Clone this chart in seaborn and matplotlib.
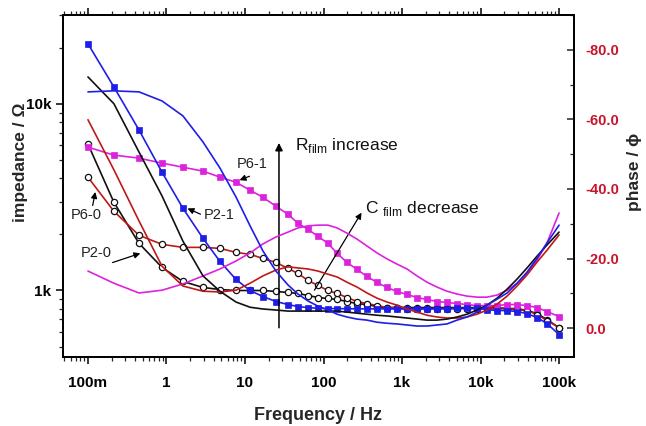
import numpy as np
import pandas as pd
import matplotlib
matplotlib.use("Agg")
import matplotlib.pyplot as plt
import seaborn as sns
from matplotlib.ticker import FixedLocator, LogLocator, NullFormatter, MultipleLocator, FuncFormatter

sns.set_theme(style="ticks")
plt.rcParams['font.family'] = ['Liberation Sans', 'DejaVu Sans']
plt.rcParams['mathtext.fontset'] = 'custom'
plt.rcParams['mathtext.rm'] = 'Liberation Sans'

# ---------------- data ----------------
freq = [0.1, 0.214, 0.447, 0.877, 1.62, 2.92, 4.8, 7.68, 11.6, 16.9, 24.8, 35.3, 47.3,
        63.5, 85.1, 114, 149, 199, 267, 358, 481, 644, 863, 1158, 1552, 2081, 2790,
        3740, 5020, 6730, 9020, 12100, 16200, 21800, 29200, 39100, 52500, 70300, 100000]

# impedance (ohm)
z_p21 = [21020, 12340, 7250, 4310, 2760, 1904, 1432, 1146, 1000, 928, 873, 841, 820,
         810, 803, 800, 800, 798, 798, 797, 797, 797, 796, 796, 797, 797, 798,
         800, 802, 803, 802, 790, 781, 781, 771, 752, 716, 665, 580]
z_p61 = [5873, 5318, 5125, 4818, 4584, 4363, 4051, 3807, 3448, 3162, 2829, 2562, 2292,
         2128, 1951, 1789, 1581, 1414, 1297, 1189, 1104, 1038, 988, 952, 917, 895, 873,
         863, 851, 841, 830, 830, 830, 841, 841, 830, 810, 771, 725]
z_p20 = [6095, 2972, 1789, 1330, 1118, 1038, 1012, 1000, 1000, 1000, 988, 976, 964,
         940, 917, 906, 895, 873, 851, 841, 820, 810, 810, 810, 810, 810, 810,
         810, 810, 810, 810, 810, 810, 800, 800, 781, 752, 698, 632]
z_p60 = [4051, 2659, 1976, 1768, 1703, 1703, 1682, 1601, 1562, 1486, 1414, 1313, 1234,
         1132, 1064, 1000, 964, 917, 873, 851, 830, 810, 810, 800, 800, 800, 800,
         800, 800, 800, 800, 800, 800, 800, 790, 781, 743, 690, 632]

# phase (degree)
ph_p21 = [-67.9, -68.2, -67.9, -65.3, -61.0, -53.5, -46.0, -37.7, -29.4, -22.2, -16.4, -12.4, -9.8,
          -7.8, -6.3, -5.2, -4.0, -3.2, -2.6, -2.3, -1.7, -1.4, -1.2, -0.9, -0.6, -0.6, -0.9,
          -1.2, -2.3, -3.2, -4.6, -6.6, -8.3, -10.1, -12.9, -16.1, -20.1, -24.5, -29.6]
ph_p20 = [-72.2, -64.5, -50.6, -38.0, -25.0, -15.0, -10.6, -7.5, -6.0, -5.5, -5.2, -4.9, -4.9,
          -4.9, -4.9, -4.9, -4.9, -4.6, -4.3, -4.0, -3.7, -3.5, -3.2, -2.9, -2.6, -2.3, -2.3,
          -2.6, -3.2, -4.0, -5.2, -6.6, -8.6, -11.2, -14.1, -17.3, -20.7, -23.9, -27.6]
ph_p60 = [-59.9, -45.5, -30.8, -17.8, -12.1, -10.6, -10.4, -10.9, -12.9, -15.0, -16.7, -17.6, -17.3,
          -17.0, -16.4, -15.5, -14.7, -13.2, -11.8, -10.1, -8.6, -7.5, -6.6, -5.5, -4.6, -3.7, -3.2,
          -2.9, -2.9, -3.2, -4.0, -5.2, -6.9, -9.2, -12.1, -15.3, -19.0, -22.4, -26.8]
ph_p61 = [-16.4, -12.9, -10.1, -10.9, -12.7, -15.0, -17.0, -19.3, -21.6, -24.2, -26.2, -27.6, -28.8,
          -29.4, -29.6, -29.6, -28.8, -27.3, -25.6, -23.6, -21.6, -19.9, -18.4, -17.0, -15.0, -13.2, -11.8,
          -10.6, -9.8, -9.2, -8.9, -8.9, -9.5, -10.9, -12.9, -15.8, -19.6, -24.5, -33.1]

x_ticks = [0.1, 1, 10, 100, 1000, 10000, 100000]
x_ticklabels = ["100m", "1", "10", "100", "1k", "10k", "100k"]
y_ticks = [1000, 10000]
y_ticklabels = ["1k", "10k"]
ph_ticks = [-80, -60, -40, -20, 0]

BLUE = "#1e1ee6"
MAG = "#dd22dd"
RED = "#c01818"
BLACK = "#111111"
TICKRED = "#c8142a"

# ---------------- figure ----------------
fig = plt.figure(figsize=(6.46, 4.26), dpi=100)
ax = fig.add_axes([63/646, 1-357/426, (574-63)/646, (357-15)/426])
ax2 = ax.twinx()

df = pd.DataFrame({"freq": freq, "z_p21": z_p21, "z_p61": z_p61, "z_p20": z_p20, "z_p60": z_p60,
                   "ph_p21": ph_p21, "ph_p20": ph_p20, "ph_p60": ph_p60, "ph_p61": ph_p61})

lw = 1.2
# phase lines (right axis)
for col, c in [("ph_p61", MAG), ("ph_p60", RED), ("ph_p20", BLACK), ("ph_p21", BLUE)]:
    sns.lineplot(data=df, x="freq", y=col, ax=ax2, color=c, lw=lw, legend=False, sort=False)

# impedance lines with markers (left axis)
sns.lineplot(data=df, x="freq", y="z_p20", ax=ax, color=BLACK, lw=lw, marker="o", markersize=4.5,
             markerfacecolor="white", markeredgecolor=BLACK, markeredgewidth=0.9, legend=False, sort=False)
sns.lineplot(data=df, x="freq", y="z_p60", ax=ax, color=RED, lw=lw, marker="o", markersize=4.5,
             markerfacecolor="white", markeredgecolor=BLACK, markeredgewidth=0.9, legend=False, sort=False)
sns.lineplot(data=df, x="freq", y="z_p61", ax=ax, color=MAG, lw=lw, marker="s", markersize=4,
             markerfacecolor=MAG, markeredgecolor=MAG, markeredgewidth=0.5, legend=False, sort=False)
sns.lineplot(data=df, x="freq", y="z_p21", ax=ax, color=BLUE, lw=lw, marker="s", markersize=4,
             markerfacecolor=BLUE, markeredgecolor=BLUE, markeredgewidth=0.5, legend=False, sort=False)

# scales / limits
ax.set_xscale("log")
ax.set_yscale("log")
ax.set_xlim(0.0481, 155000)
ax.set_ylim(440, 30000)
ax2.set_ylim(8.3, -90)

ax.xaxis.set_major_locator(FixedLocator(x_ticks))
ax.set_xticklabels(x_ticklabels)
ax.xaxis.set_minor_locator(LogLocator(base=10, subs=np.arange(2, 10)))
ax.xaxis.set_minor_formatter(NullFormatter())
ax.yaxis.set_major_locator(FixedLocator(y_ticks))
ax.set_yticklabels(y_ticklabels)
ax.yaxis.set_minor_locator(LogLocator(base=10, subs=np.arange(2, 10)))
ax.yaxis.set_minor_formatter(NullFormatter())

ax2.yaxis.set_major_locator(FixedLocator(ph_ticks))
ax2.yaxis.set_major_formatter(FuncFormatter(lambda v, p: f"{v:.1f}"))
ax2.yaxis.set_minor_locator(MultipleLocator(10))

for a in (ax, ax2):
    for s in a.spines.values():
        s.set_color("black")
        s.set_linewidth(1.3)

ax.tick_params(axis="x", which="major", direction="out", length=5, width=1.1, top=True,
               labelsize=11, pad=9, colors="black")
ax.tick_params(axis="x", which="minor", direction="out", length=3, width=0.9, top=True)
ax.tick_params(axis="y", which="major", direction="out", length=5, width=1.1, right=False,
               labelsize=11, colors="black")
ax.tick_params(axis="y", which="minor", direction="out", length=3, width=0.9, right=False)
ax2.tick_params(axis="y", which="major", direction="in", length=5, width=1.1, labelsize=10.5,
                labelcolor=TICKRED, pad=8)
ax2.tick_params(axis="y", which="minor", direction="in", length=3, width=0.9)
for lab in ax.get_xticklabels() + ax.get_yticklabels() + ax2.get_yticklabels():
    lab.set_fontweight("bold")

ax.set_xlabel("Frequency / Hz", fontsize=13, fontweight="bold", labelpad=12)
ax.set_ylabel("impedance / \u03a9", fontsize=12.5, fontweight="bold")
ax.yaxis.set_label_coords(-0.068, 0.57)
ax2.set_ylabel("phase / \u03d5", fontsize=12.5, fontweight="bold", rotation=90)
ax2.yaxis.set_label_coords(1.104, 0.54)
ax.grid(False)
ax2.grid(False)

# annotations
akw = dict(arrowstyle="-|>", color="black", lw=0.9, mutation_scale=9)
ax.annotate("", xy=(27.1, 6400), xytext=(27.1, 610), arrowprops=dict(akw, lw=1.1, mutation_scale=11))
ax.text(43.4, 6022, r"R$_{\rm film}$ increase", fontsize=12.5, ha="left", va="center", color="#111111")
ax.annotate("", xy=(318, 2692), xytext=(73.5, 975), arrowprops=akw)
ax.text(338, 2761, r"C $_{\rm film}$ decrease", fontsize=12.5, ha="left", va="center", color="#111111")

ax.text(12.3, 4753, "P6-1", fontsize=10.5, ha="center", va="center", color="#222222")
ax.annotate("", xy=(7.9, 3855), xytext=(12.3, 4150), arrowprops=akw)
ax.text(4.67, 2530, "P2-1", fontsize=10.5, ha="center", va="center", color="#222222")
ax.annotate("", xy=(1.72, 2793), xytext=(2.92, 2530), arrowprops=akw)
ax.text(0.0943, 2530, "P6-0", fontsize=10.5, ha="center", va="center", color="#222222")
ax.annotate("", xy=(0.126, 3491), xytext=(0.113, 2760), arrowprops=akw)
ax.text(0.126, 1581, "P2-0", fontsize=10.5, ha="center", va="center", color="#222222")
ax.annotate("", xy=(0.502, 1600), xytext=(0.1906, 1397), arrowprops=akw)

fig.savefig("out.png", dpi=100)
